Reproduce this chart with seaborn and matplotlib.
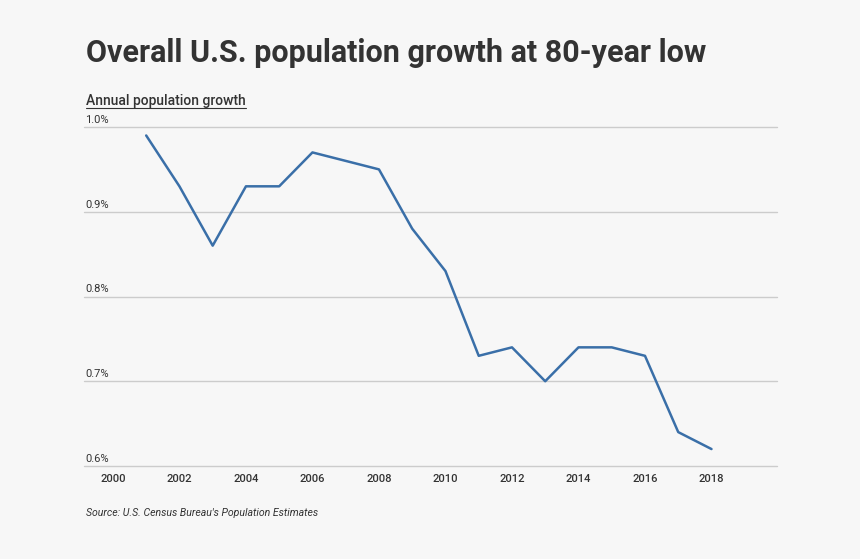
import matplotlib
matplotlib.use("Agg")
import matplotlib.pyplot as plt
import matplotlib.lines as mlines
import seaborn as sns
import pandas as pd

years = [2001, 2002, 2003, 2004, 2005, 2006, 2007, 2008, 2009,
         2010, 2011, 2012, 2013, 2014, 2015, 2016, 2017, 2018]
growth = [0.99, 0.93, 0.86, 0.93, 0.93, 0.97, 0.96, 0.95, 0.88,
          0.83, 0.73, 0.74, 0.70, 0.74, 0.74, 0.73, 0.64, 0.62]
xticks = [2000, 2002, 2004, 2006, 2008, 2010, 2012, 2014, 2016, 2018]
yticks = [0.6, 0.7, 0.8, 0.9, 1.0]
ytick_labels = ["0.6%", "0.7%", "0.8%", "0.9%", "1.0%"]
title = "Overall U.S. population growth at 80-year low"
subtitle = "Annual population growth"
source = "Source: U.S. Census Bureau's Population Estimates"

sns.set_theme(style="white")
plt.rcParams["font.family"] = ["Roboto", "DejaVu Sans"]

BG = "#f7f7f7"
TXT = "#333333"
W, H = 860, 559
fig = plt.figure(figsize=(W / 100, H / 100), dpi=100, facecolor=BG)
ax = fig.add_axes([84 / W, 1 - 466 / H, (777 - 84) / W, (466 - 127) / H])
ax.set_facecolor(BG)

df = pd.DataFrame({"year": years, "growth": growth})
sns.lineplot(data=df, x="year", y="growth", ax=ax, color="#3a6fa8",
             linewidth=1.8, legend=False)

ax.set_xlim(1999.13, 2019.97)
ax.set_ylim(0.6, 1.0)
ax.set_xticks(xticks)
ax.set_xticklabels([str(t) for t in xticks], fontsize=8, color=TXT,
                   fontweight="medium")
ax.set_yticks(yticks)
ax.set_yticklabels([])
ax.tick_params(axis="x", length=0, pad=6)
ax.tick_params(axis="y", length=0, pad=0)
for s in ax.spines.values():
    s.set_visible(False)
ax.set_xlabel("")
ax.set_ylabel("")
for v in yticks:
    ax.axhline(v, color="#cccccc", linewidth=1.0, zorder=0, clip_on=False)
for v, lab in zip(yticks, ytick_labels):
    ax.annotate(lab, xy=(0, v), xycoords=("axes fraction", "data"),
                xytext=(1, 1.5), textcoords="offset points",
                ha="left", va="bottom", fontsize=8, color=TXT)

fig.text(86 / W, 1 - 53 / H, title, fontsize=22, fontweight="bold",
         color=TXT, ha="left", va="center")
t = fig.text(86 / W, 1 - 101 / H, subtitle, fontsize=10, color=TXT,
             ha="left", va="center", fontweight="medium")
fig.canvas.draw()
bb = t.get_window_extent()
fig.add_artist(mlines.Line2D([bb.x0 / W, bb.x1 / W],
                             [1 - 107.5 / H, 1 - 107.5 / H],
                             transform=fig.transFigure, color=TXT,
                             linewidth=0.8))
fig.text(86 / W, 1 - 513 / H, source, fontsize=7.55, style="italic",
         color=TXT, ha="left", va="center")

fig.savefig("out.png", dpi=100, facecolor=BG)
